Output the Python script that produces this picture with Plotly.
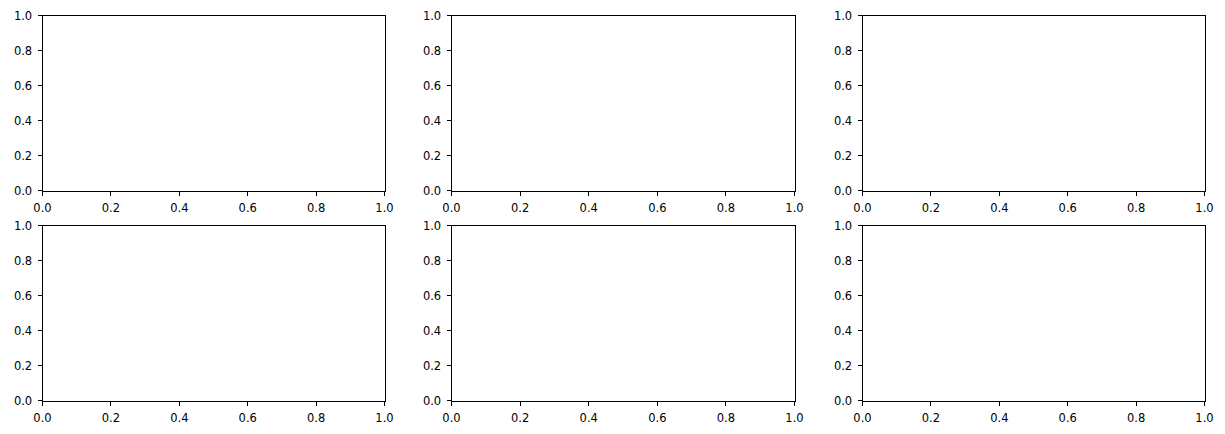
import plotly.graph_objects as go

W, H = 1225, 434
tick_values = [0.0, 0.2, 0.4, 0.6, 0.8, 1.0]
tick_labels = ["0.0", "0.2", "0.4", "0.6", "0.8", "1.0"]
axis_range = [0.0, 1.0]

# pixel boxes (left, right) per column, (top, bottom) per row
cols_px = [(42.5, 384.5), (451.5, 794.5), (862.5, 1204.5)]
rows_px = [(15.5, 190.5), (225.5, 400.5)]

fig = go.Figure()
font = dict(family="DejaVu Sans", size=11.5, color="black")
n = 0
for r, (top, bot) in enumerate(rows_px):
    for c, (lft, rgt) in enumerate(cols_px):
        n += 1
        sx = "" if n == 1 else str(n)
        common = dict(
            range=axis_range, tickvals=tick_values, ticktext=tick_labels,
            showgrid=False, zeroline=False, showline=True, mirror=True,
            linecolor="black", linewidth=1, ticks="outside", ticklen=4,
            tickwidth=1, tickcolor="black", tickfont=font, fixedrange=True,
            automargin=False,
        )
        fig.layout["xaxis" + sx] = dict(
            domain=[lft / W, rgt / W], anchor="y" + sx, ticklabelstandoff=3,
            **common
        )
        fig.layout["yaxis" + sx] = dict(
            domain=[1 - bot / H, 1 - top / H], anchor="x" + sx,
            ticklabelstandoff=3, **common
        )
        fig.add_trace(go.Scatter(x=[], y=[], xaxis="x" + sx, yaxis="y" + sx,
                                 showlegend=False))

fig.update_layout(
    width=W, height=H, autosize=False,
    margin=dict(l=0, r=0, t=0, b=0, pad=0, autoexpand=False),
    paper_bgcolor="white", plot_bgcolor="white", showlegend=False,
)
fig.write_html(
    "out.html",
    config={"displayModeBar": False, "responsive": False},
    post_script="document.body.style.margin='0';",
)
